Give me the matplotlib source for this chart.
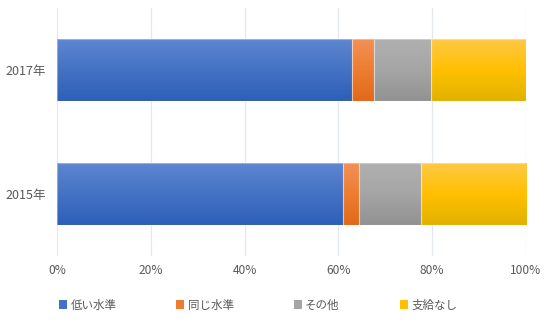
import matplotlib
matplotlib.use("Agg")
import matplotlib.pyplot as plt
import numpy as np
from matplotlib.colors import LinearSegmentedColormap
from matplotlib.patches import Patch

plt.rcParams['font.family'] = ['Noto Sans CJK JP', 'DejaVu Sans']

categories = ["2015年", "2017年"]
series_names = ["低い水準", "同じ水準", "その他", "支給なし"]
low_level = [61.0, 63.0]
same_level = [3.3, 4.5]
other = [13.3, 12.3]
none_paid = [22.4, 20.2]
tick_labels = ["0%", "20%", "40%", "60%", "80%", "100%"]

base_colors = ["#4472C4", "#ED7D31", "#A5A5A5", "#FFC000"]
top_colors = ["#5E86D0", "#F39055", "#B0B0B0", "#FFC845"]
bot_colors = ["#2E60B8", "#E2691A", "#929292", "#E2B200"]

fig = plt.figure(figsize=(5.5, 3.27), dpi=100)
ax = fig.add_axes([57/550, 1-256/327, 469/550, 248/327])

values = [low_level, same_level, other, none_paid]
y = np.arange(len(categories))
left = np.zeros(len(categories))
for i, vals in enumerate(values):
    bars = ax.barh(y, vals, left=left, height=0.5, color=base_colors[i],
                   edgecolor='none', zorder=2)
    cmap = LinearSegmentedColormap.from_list(
        f"g{i}", [bot_colors[i], base_colors[i], top_colors[i]])
    for b in bars:
        x0, y0 = b.get_x(), b.get_y()
        w, h = b.get_width(), b.get_height()
        grad = np.linspace(0, 1, 64).reshape(-1, 1)
        ax.imshow(grad, cmap=cmap, aspect='auto', origin='lower',
                  extent=[x0, x0 + w, y0, y0 + h], zorder=3,
                  interpolation='bicubic')
        b.set_facecolor('none')
        b.set_edgecolor((1, 1, 1, 0.35))
        b.set_linewidth(0.8)
        b.set_zorder(4)
    left = left + np.array(vals)

ax.set_xlim(0, 100)
ax.set_ylim(-0.5, 1.5)
ax.set_xticks(np.linspace(0, 100, 6))
ax.set_xticklabels(tick_labels)
ax.set_yticks(y)
ax.set_yticklabels(categories)
ax.tick_params(axis='both', length=0, colors='#595959')
ax.tick_params(axis='x', pad=5.5, labelsize=8.6)
ax.tick_params(axis='y', pad=8, labelsize=9)
ax.grid(axis='x', color='#E3E8F0', linewidth=0.9, zorder=0)
ax.set_axisbelow(True)
for s in ax.spines.values():
    s.set_visible(False)

handles = [Patch(facecolor=c, edgecolor='none') for c in base_colors]
fig.legend(handles, series_names, loc='center', bbox_to_anchor=(258/550, 1-305/327),
           ncol=4, frameon=False, fontsize=8.3, handlelength=0.7, handleheight=0.7,
           handletextpad=0.3, columnspacing=5.2, labelcolor='#595959')

fig.savefig("out.png", dpi=100)
